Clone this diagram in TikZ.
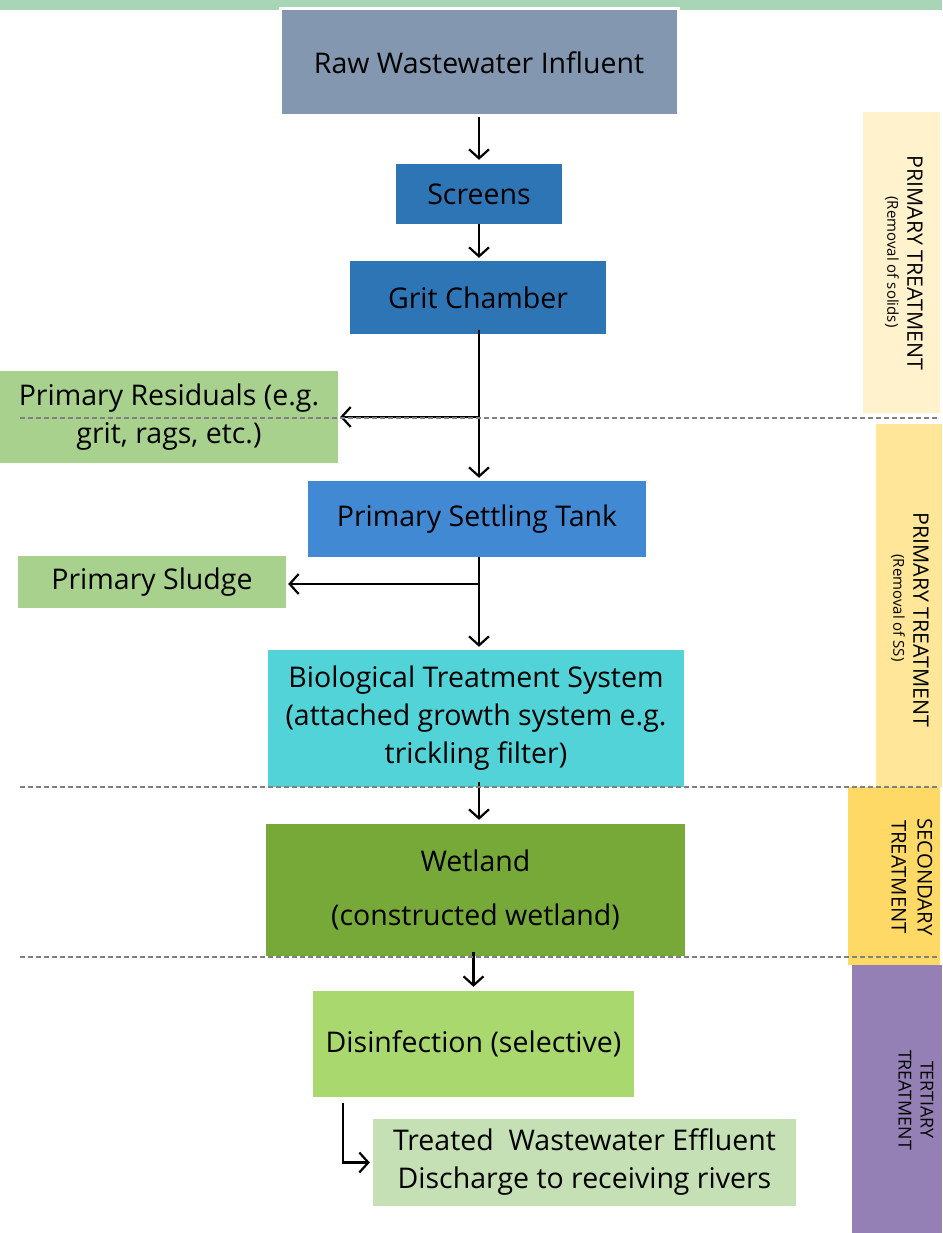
\documentclass[tikz,border=0pt]{standalone}
\usepackage{fontspec}
\setmainfont{Open Sans}
\usetikzlibrary{arrows.meta}
\definecolor{stripc}{HTML}{A8D5B5}
\definecolor{rawc}{HTML}{8497B0}
\definecolor{bluec}{HTML}{2E75B6}
\definecolor{settlec}{HTML}{4189D3}
\definecolor{residc}{HTML}{A9D18E}
\definecolor{bioc}{HTML}{52D3D8}
\definecolor{wetc}{HTML}{76A938}
\definecolor{disc}{HTML}{A9D86E}
\definecolor{treatc}{HTML}{C5E0B4}
\definecolor{bandA}{HTML}{FFF2CC}
\definecolor{bandB}{HTML}{FFE699}
\definecolor{bandC}{HTML}{FFD966}
\definecolor{bandD}{HTML}{9480B4}
\definecolor{dashc}{HTML}{808080}
\tikzset{
  box/.style={inner sep=0pt, align=center, text=black, font=\fontsize{28.5}{38}\selectfont},
  arr/.style={line width=2.2pt, -{Straight Barb[length=9pt,width=20pt,line width=2.2pt]}},
  dashline/.style={draw=dashc, line width=1.2pt, dash pattern=on 5pt off 3pt},
  bandlabel/.style={rotate=-90, align=center, inner sep=0pt, text=black},
  bandmain/.style={bandlabel, font=\fontsize{21.3}{26}\selectfont},
  bandsub/.style={bandlabel, font=\fontsize{15}{18}\selectfont},
}
\begin{document}
\begin{tikzpicture}[x=1pt,y=-1pt]
\useasboundingbox (0,0) rectangle (942,1233);
% top strip
\fill[stripc] (0,0) rectangle (942,10);
% right bands
\fill[bandA] (863,112) rectangle (940,413);
\fill[bandB] (876,424) rectangle (942,787);
\fill[bandC] (848,787) rectangle (940,965);
\fill[bandD] (852,965) rectangle (942,1233);
\node[bandmain] (labA) at (915,263) {PRIMARY TREATMENT};
\node[bandsub] (labAs) at (892,262) {(Removal of solids)};
\node[bandmain] (labB) at (921,620) {PRIMARY TREATMENT};
\node[bandsub] (labBs) at (898,608) {(Removal of SS)};
\node[bandlabel, font=\fontsize{20.3}{26}\selectfont] (labC) at (912,877) {SECONDARY\\TREATMENT};
\node[bandlabel, font=\fontsize{17.8}{22}\selectfont] (labD) at (916,1100) {TERTIARY\\TREATMENT};
% boxes
\node[box, fill=rawc, draw=white, line width=3pt, minimum width=398pt, minimum height=107pt] (raw) at (479,62.5) {Raw Wastewater Influent};
\node[box, fill=bluec, minimum width=166pt, minimum height=60pt] (screens) at (479,194) {Screens};
\node[box, fill=bluec, minimum width=256pt, minimum height=73pt] (grit) at (478,297.5) {Grit Chamber};
\node[box, fill=residc, minimum width=338pt, minimum height=92pt] (resid) at (169,417) {Primary Residuals (e.g.\\grit, rags, etc.)};
\node[box, fill=settlec, minimum width=338pt, minimum height=76pt] (settle) at (477,519) {Primary Settling Tank};
\node[box, fill=residc, minimum width=268pt, minimum height=52pt] (sludge) at (152,582) {Primary Sludge};
\node[box, fill=bioc, minimum width=416pt, minimum height=137pt] (bio) at (476,718.5) {Biological Treatment System\\(attached growth system e.g.\\trickling filter)};
\node[box, fill=wetc, minimum width=419pt, minimum height=132pt, font=\fontsize{28.5}{54}\selectfont] (wet) at (475.5,890) {Wetland\\(constructed wetland)};
\node[box, fill=disc, minimum width=321pt, minimum height=106pt] (dis) at (473.5,1044) {Disinfection (selective)};
\node[box, fill=treatc, minimum width=423pt, minimum height=87pt] (treat) at (584.5,1162.5) {Treated\ \ Wastewater Effluent\\Discharge to receiving rivers};
% connectors
\draw[arr, shorten >=4pt] (raw.south) -- (raw.south |- screens.north);
\draw[arr, shorten >=3pt] (screens.south) -- (screens.south |- grit.north);
\coordinate (g0) at ([yshift=4pt]grit.south -| screens.south);
\draw[arr, shorten >=3pt] (g0) -- (g0 |- settle.north);
\coordinate (j1) at (g0 |- resid.east);
\draw[arr, shorten >=2pt] (j1) -- (resid.east);
\coordinate (s0) at (settle.south -| screens.south);
\draw[arr, shorten >=3pt] (s0) -- (s0 |- bio.north);
\coordinate (j2) at ([yshift=-2pt]s0 |- sludge.east);
\draw[arr, shorten >=2pt] (j2) -- (j2 -| sludge.east);
\coordinate (b0) at ([yshift=5pt]bio.south -| screens.south);
\draw[arr, shorten >=4pt] (b0) -- (b0 |- wet.north);
\coordinate (w0) at ([yshift=4pt]wet.south -| dis.north);
\draw[arr, shorten >=4pt] (w0) -- (dis.north);
\coordinate (d0) at (343,1103);
\draw[arr, shorten >=3pt] (d0) |- (treat.west);
% dashed separators
\draw[dashline] (20,418) -- (940,418);
\draw[dashline] (20,787) -- (940,787);
\draw[dashline] (20,957) -- (940,957);
\end{tikzpicture}
\end{document}
